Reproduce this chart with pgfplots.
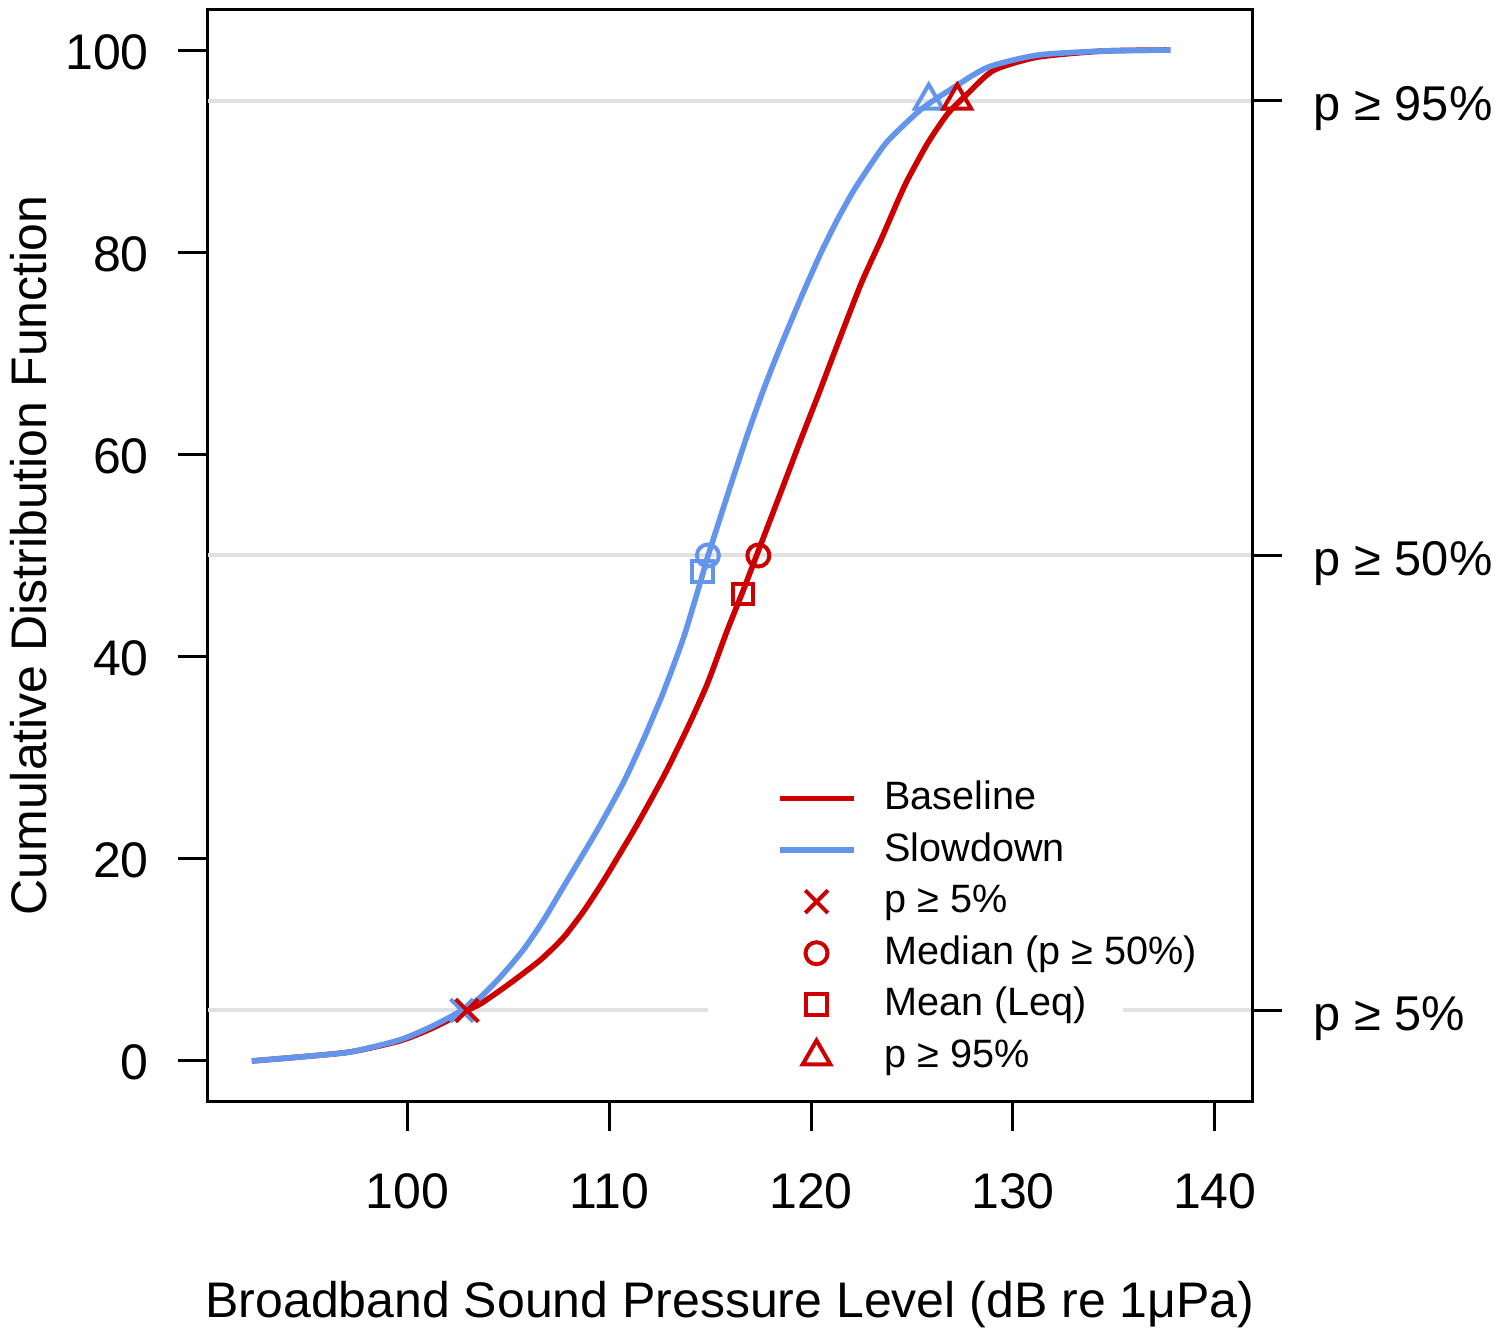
\documentclass[border=0pt]{standalone}
\usepackage{fontspec}
\setmainfont{Liberation Sans}
\usepackage{pgfplots}
\pgfplotsset{compat=1.18}

\definecolor{base}{RGB}{205,0,0}
\definecolor{slow}{RGB}{100,149,237}
\definecolor{refl}{RGB}{225,225,225}

% common frame for both axes (1px of the reference = 0.25pt)
\pgfplotsset{
  cdfframe/.style={
    width=261.15pt, height=272.75pt, scale only axis,
    xmin=90.11, xmax=141.85, ymin=-3.96, ymax=103.96,
    tick align=outside, major tick length=7.5pt,
    every tick/.style={black, line width=0.75pt},
    axis line style={line width=0.75pt},
    /pgf/number format/assume math mode=true,
  },
  lineleg/.style={legend image code/.code={%
    \draw[##1] (0pt,0pt) -- (18.5pt,0pt);}},
  markleg/.style={legend image code/.code={%
    \path (0pt,0pt) (18.5pt,0pt);
    \draw[##1] plot coordinates {(9.25pt,0pt)};}},
}

\begin{document}
\begin{tikzpicture}
\begin{axis}[
    cdfframe,
    xtick pos=bottom, ytick pos=left,
    xtick={100,110,...,140},
    ytick={0,20,...,100},
    tick label style={font=\fontsize{12.5}{15}\selectfont, inner sep=0pt},
    xticklabel style={anchor=base, yshift=-19.25pt},
    yticklabel style={anchor=base east, xshift=-7pt, yshift=-4.75pt},
    xlabel={Broadband Sound Pressure Level (dB re 1μPa)},
    ylabel={Cumulative Distribution Function},
    every axis x label/.style={at={([yshift=-54pt]axis description cs:0.5,0)},
        anchor=base, inner sep=0pt, font=\fontsize{12.5}{15}\selectfont},
    every axis y label/.style={at={([xshift=-40.25pt]axis description cs:0,0.5)},
        rotate=90, anchor=base, inner sep=0pt, font=\fontsize{12.5}{15}\selectfont},
    legend style={draw=none, fill=none, at={(axis cs:118.26,28.6)}, anchor=north west,
        font=\fontsize{9.9}{12}\selectfont, row sep=0pt, inner sep=0pt,
        nodes={inner sep=0pt, text height=9.2pt, text depth=3.7pt},
        /tikz/every odd column/.append style={column sep=7pt}},
    legend cell align=left,
]

% reference levels
\addplot[refl, line width=1pt, forget plot] coordinates {(90.11,95) (141.85,95)};
\addplot[refl, line width=1pt, forget plot] coordinates {(90.11,50) (141.85,50)};
\addplot[refl, line width=1pt, forget plot] coordinates {(90.11,5) (114.89,5)};
\addplot[refl, line width=1pt, forget plot] coordinates {(135.45,5) (141.85,5)};

% Baseline
\addplot[base, line width=1.4pt, line join=round, smooth, tension=0.4, lineleg] coordinates {
(92.3,0) (94.7,0.4) (97.2,0.9) (99.65,2.0) (101.3,3.3) (102.96,5.0)
(103.67,5.7) (105.1,7.7) (106.6,10.0) (107.73,12.2) (108.73,14.8)
(109.65,17.6) (110.5,20.4) (111.39,23.4) (112.71,28.2) (113.87,32.9)
(114.86,37.3) (115.85,42.6) (116.63,46.5) (117.34,50.2) (118.49,56.2)
(119.48,61.4) (120.38,66.0) (121.14,70.0) (122.46,76.8) (123.5,81.4)
(124.28,85.0) (124.79,87.2) (125.78,90.8) (126.77,93.7) (127.76,95.7)
(129.05,98.0) (131.23,99.3) (134.5,99.9) (137.8,100)
};
\addlegendentry{Baseline}

% Slowdown
\addplot[slow, line width=1.4pt, line join=round, smooth, tension=0.4, lineleg] coordinates {
(92.3,0) (94.7,0.4) (97.2,0.9) (99.65,2.1) (101.3,3.5) (102.7,5.0)
(103.62,6.3) (104.61,8.3) (105.75,11.0) (106.74,13.9) (107.73,17.2)
(109.4,22.8) (110.72,27.6) (111.72,31.9) (112.38,35.0) (112.71,36.6)
(113.69,41.9) (114.61,48.0) (114.9,50.0) (116.01,56.9) (116.84,61.9)
(117.59,66.1) (118.33,69.9) (119.48,75.4) (120.48,79.9) (121.3,83.2)
(122.11,86.1) (123.0,88.8) (123.8,91.0) (125.43,94.1) (127.07,96.3)
(128.76,98.3) (131.23,99.5) (134.5,99.9) (137.8,100)
};
\addlegendentry{Slowdown}

% Slowdown statistics
\addplot[slow, only marks, mark=x, mark size=4pt, line width=1pt, forget plot]
  coordinates {(102.7,5)};
\addplot[slow, only marks, mark=o, mark size=2.75pt, line width=1pt, forget plot]
  coordinates {(114.89,50)};
\addplot[slow, only marks, mark=square, mark size=2.6pt, line width=1pt, forget plot]
  coordinates {(114.61,48.4)};
\addplot[slow, only marks, mark=triangle, mark size=4pt, line width=1pt, forget plot]
  coordinates {(125.83,95)};

% Baseline statistics
\addplot[base, only marks, mark=x, mark size=4pt, line width=1pt, markleg]
  coordinates {(102.96,5)};
\addlegendentry{p ≥ 5\%}
\addplot[base, only marks, mark=o, mark size=2.75pt, line width=1pt, markleg]
  coordinates {(117.39,50)};
\addlegendentry{Median (p ≥ 50\%)}
\addplot[base, only marks, mark=square, mark size=2.6pt, line width=1pt, markleg]
  coordinates {(116.63,46.2)};
\addlegendentry{Mean (Leq)}
\addplot[base, only marks, mark=triangle, mark size=4pt, line width=1pt, markleg]
  coordinates {(127.24,95)};
\addlegendentry{p ≥ 95\%}
\end{axis}

% right-hand labels of the reference levels
\begin{axis}[
    cdfframe,
    axis x line=none,
    axis y line*=right,
    ytick={5,50,95},
    yticklabels={p ≥ 5\%, p ≥ 50\%, p ≥ 95\%},
    yticklabel style={font=\fontsize{12.2}{14}\selectfont, inner sep=0pt,
        anchor=base west, xshift=7.7pt, yshift=-5pt},
]
\end{axis}

\pgfresetboundingbox
\useasboundingbox (-51.9pt,-58.75pt) rectangle (322.1pt,275.25pt);
\end{tikzpicture}
\end{document}
